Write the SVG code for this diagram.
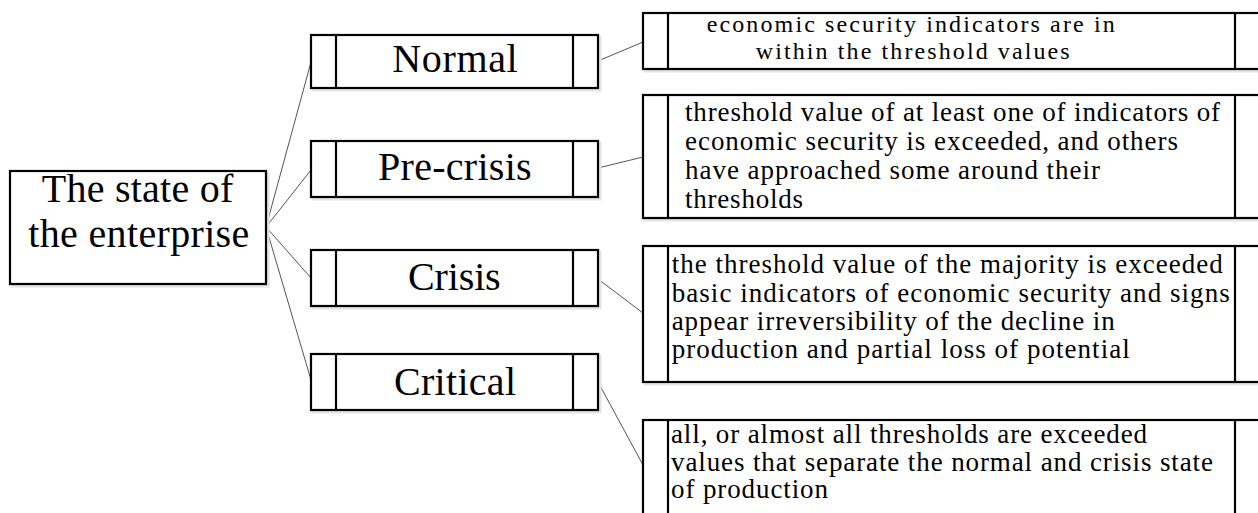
<svg xmlns="http://www.w3.org/2000/svg" width="1258" height="513" viewBox="0 0 1258 513">
<style>
.bx{fill:#fff;stroke:#000;stroke-width:2.2}
.sh{fill:none;stroke:#e4e4e4;stroke-width:3}
.dv{stroke:#000;stroke-width:2.2}
.cn{stroke:#555;stroke-width:1;fill:none}
text{font-family:"Liberation Serif","Times New Roman",serif;fill:#000}
.big{font-size:40px}
.sm{font-size:27px}
.s1{font-size:24px}
</style>
<rect width="1258" height="513" fill="#fff"/>
<g id="connectors">
<line class="cn" x1="266" y1="227" x2="311" y2="62"/>
<line class="cn" x1="266" y1="227" x2="311" y2="170"/>
<line class="cn" x1="266" y1="227" x2="311" y2="278"/>
<line class="cn" x1="266" y1="227" x2="311" y2="380"/>
<line class="cn" x1="598" y1="61" x2="643" y2="42"/>
<line class="cn" x1="598" y1="168" x2="643" y2="157"/>
<line class="cn" x1="598" y1="279" x2="643" y2="313"/>
<line class="cn" x1="598" y1="382" x2="643" y2="465"/>
</g>
<g id="root">
<rect class="sh" x="12" y="173" width="256" height="113"/>
<rect class="bx" x="10" y="171" width="256" height="113"/>
<text class="big" x="41.7" y="202.3" textLength="191.6">The state of</text>
<text class="big" x="28.3" y="247.3" textLength="221">the enterprise</text>
</g>
<g id="normal">
<rect class="sh" x="313" y="37" width="287" height="53"/>
<rect class="bx" x="311" y="35" width="287" height="53"/>
<line class="dv" x1="336" y1="35" x2="336" y2="88"/>
<line class="dv" x1="573" y1="35" x2="573" y2="88"/>
<text class="big" x="392.3" y="72.3" textLength="125.4">Normal</text>
</g>
<g id="precrisis">
<rect class="sh" x="313" y="143" width="287" height="56"/>
<rect class="bx" x="311" y="141" width="287" height="56"/>
<line class="dv" x1="336" y1="141" x2="336" y2="197"/>
<line class="dv" x1="573" y1="141" x2="573" y2="197"/>
<text class="big" x="378" y="180" textLength="153.7">Pre-crisis</text>
</g>
<g id="crisis">
<rect class="sh" x="313" y="252" width="287" height="56"/>
<rect class="bx" x="311" y="250" width="287" height="56"/>
<line class="dv" x1="336" y1="250" x2="336" y2="306"/>
<line class="dv" x1="573" y1="250" x2="573" y2="306"/>
<text class="big" x="408" y="290" textLength="92.7">Crisis</text>
</g>
<g id="critical">
<rect class="sh" x="313" y="356" width="287" height="56"/>
<rect class="bx" x="311" y="354" width="287" height="56"/>
<line class="dv" x1="336" y1="354" x2="336" y2="410"/>
<line class="dv" x1="573" y1="354" x2="573" y2="410"/>
<text class="big" x="394" y="395" textLength="122">Critical</text>
</g>
<g id="desc-normal">
<rect class="sh" x="645" y="15" width="617" height="56"/>
<rect class="bx" x="643" y="13" width="617" height="56"/>
<line class="dv" x1="668" y1="13" x2="668" y2="69"/>
<line class="dv" x1="1235" y1="13" x2="1235" y2="69"/>
<text class="s1" x="706.7" y="32.3" textLength="408">economic security indicators are in</text>
<text class="s1" x="755.7" y="59.3" textLength="314">within the threshold values</text>
</g>
<g id="desc-precrisis">
<rect class="sh" x="645" y="97" width="617" height="123"/>
<rect class="bx" x="643" y="95" width="617" height="123"/>
<line class="dv" x1="668" y1="95" x2="668" y2="218"/>
<line class="dv" x1="1235" y1="95" x2="1235" y2="218"/>
<text class="sm" x="685" y="120.7" textLength="535">threshold value of at least one of indicators of</text>
<text class="sm" x="685" y="149.5" textLength="493">economic security is exceeded, and others</text>
<text class="sm" x="685" y="178.5" textLength="415">have approached some around their</text>
<text class="sm" x="685" y="207.5" textLength="118">thresholds</text>
</g>
<g id="desc-crisis">
<rect class="sh" x="645" y="248" width="617" height="136"/>
<rect class="bx" x="643" y="246" width="617" height="136"/>
<line class="dv" x1="668" y1="246" x2="668" y2="382"/>
<line class="dv" x1="1235" y1="246" x2="1235" y2="382"/>
<text class="sm" x="671.7" y="273" textLength="551">the threshold value of the majority is exceeded</text>
<text class="sm" x="671.7" y="301.7" textLength="558">basic indicators of economic security and signs</text>
<text class="sm" x="671.7" y="330" textLength="443">appear irreversibility of the decline in</text>
<text class="sm" x="671.7" y="358" textLength="458">production and partial loss of potential</text>
</g>
<g id="desc-critical">
<rect class="sh" x="645" y="422" width="617" height="130"/>
<rect class="bx" x="643" y="420" width="617" height="130"/>
<line class="dv" x1="668" y1="420" x2="668" y2="550"/>
<line class="dv" x1="1235" y1="420" x2="1235" y2="550"/>
<text class="sm" x="671" y="443.3" textLength="476">all, or almost all thresholds are exceeded</text>
<text class="sm" x="671" y="470.7" textLength="542">values that separate the normal and crisis state</text>
<text class="sm" x="671" y="498.3" textLength="157">of production</text>
</g>
</svg>
